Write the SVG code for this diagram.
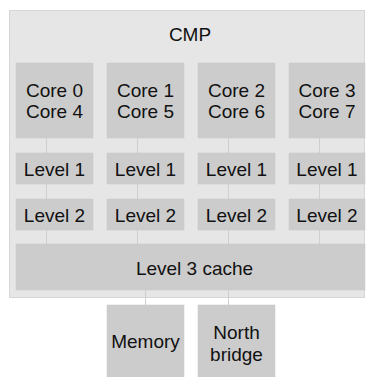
<svg xmlns="http://www.w3.org/2000/svg" width="366" height="377" viewBox="0 0 366 377">
<style>
.bg{fill:#e6e6e6;stroke:#d6d6d6;stroke-width:1}
.box{fill:#cccccc;stroke:#c8c8c8;stroke-width:0.5}
.t{font-family:"Liberation Sans",Arial,sans-serif;font-size:19px;fill:#111;text-anchor:middle}
.c{stroke:#cfcfcf;stroke-width:1;fill:none}
</style>
<rect width="366" height="377" fill="#ffffff"/>
<g id="cmp">
<rect class="bg" x="9.5" y="10.5" width="355" height="287"/>
<text class="t" x="190" y="41">CMP</text>
</g>
<g id="connectors">
<path class="c" d="M46.5 138V153M46.5 184V199M46.5 230V244M137.5 138V153M137.5 184V199M137.5 230V244M228.5 138V153M228.5 184V199M228.5 230V244M319.5 138V153M319.5 184V199M319.5 230V244M145.5 290V305M228.5 290V305"/>
</g>
<g id="core0"><rect class="box" x="16" y="63" width="77" height="75"/><text class="t" x="54.5" y="97">Core 0</text><text class="t" x="54.5" y="118">Core 4</text></g>
<g id="core1"><rect class="box" x="107" y="63" width="77" height="75"/><text class="t" x="145.5" y="97">Core 1</text><text class="t" x="145.5" y="118">Core 5</text></g>
<g id="core2"><rect class="box" x="198" y="63" width="77" height="75"/><text class="t" x="236.5" y="97">Core 2</text><text class="t" x="236.5" y="118">Core 6</text></g>
<g id="core3"><rect class="box" x="289" y="63" width="76" height="75"/><text class="t" x="327" y="97">Core 3</text><text class="t" x="327" y="118">Core 7</text></g>
<g id="l1_0"><rect class="box" x="16" y="153" width="77" height="31"/><text class="t" x="54.5" y="176">Level 1</text></g>
<g id="l1_1"><rect class="box" x="107" y="153" width="77" height="31"/><text class="t" x="145.5" y="176">Level 1</text></g>
<g id="l1_2"><rect class="box" x="198" y="153" width="77" height="31"/><text class="t" x="236.5" y="176">Level 1</text></g>
<g id="l1_3"><rect class="box" x="289" y="153" width="76" height="31"/><text class="t" x="327" y="176">Level 1</text></g>
<g id="l2_0"><rect class="box" x="16" y="199" width="77" height="31"/><text class="t" x="54.5" y="222">Level 2</text></g>
<g id="l2_1"><rect class="box" x="107" y="199" width="77" height="31"/><text class="t" x="145.5" y="222">Level 2</text></g>
<g id="l2_2"><rect class="box" x="198" y="199" width="77" height="31"/><text class="t" x="236.5" y="222">Level 2</text></g>
<g id="l2_3"><rect class="box" x="289" y="199" width="76" height="31"/><text class="t" x="327" y="222">Level 2</text></g>
<g id="l3"><rect class="box" x="16" y="244" width="349" height="46"/><text class="t" x="194.5" y="275">Level 3 cache</text></g>
<g id="memory"><rect class="box" x="107" y="305" width="77" height="72"/><text class="t" x="145.5" y="348">Memory</text></g>
<g id="northbridge"><rect class="box" x="198" y="305" width="77" height="72"/><text class="t" x="236.5" y="339">North</text><text class="t" x="236.5" y="361">bridge</text></g>
</svg>
